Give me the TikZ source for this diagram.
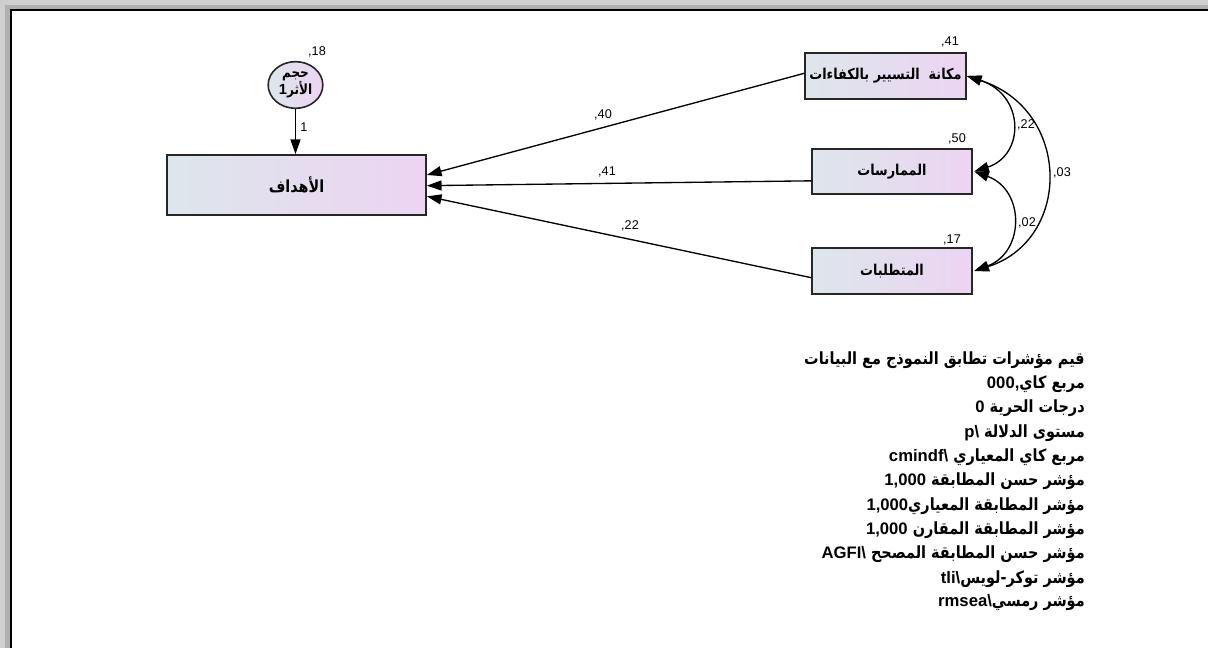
\documentclass[tikz,border=0pt]{standalone}
\usepackage{fontspec}
\setmainfont{Liberation Sans}
\newfontfamily\arabicfont[Script=Arabic,FakeStretch=0.86]{DejaVu Sans}
\TeXXeTstate=1
\usetikzlibrary{arrows.meta,shapes.geometric}
\newcommand\latn[1]{{\rmfamily\bfseries\fontsize{12.5}{13}\selectfont #1}}
\definecolor{boxL}{RGB}{221,230,235}
\definecolor{boxR}{RGB}{236,212,242}
\definecolor{frameband}{RGB}{176,176,176}
\definecolor{frameouter}{RGB}{206,206,206}

\tikzset{
  varbox/.style={draw=black!85, line width=1.3pt, left color=boxL, right color=boxR,
    inner sep=0pt, font=\arabicfont\bfseries\fontsize{11.2}{12}\selectfont},
  errcirc/.style={ellipse, draw=black!85, line width=1.2pt, left color=boxL, right color=boxR,
    inner sep=0pt, minimum width=41pt, minimum height=35pt, align=center,
    font=\arabicfont\bfseries\fontsize{10.5}{10}\selectfont},
  tip/.tip={Triangle[length=11pt,width=7.5pt]},
  regarrow/.style={-tip, line width=1pt},
  covarrow/.style={tip-tip, line width=1pt},
  est/.style={inner sep=0pt, font=\fontsize{9.5}{10}\selectfont},
  fitline/.style={anchor=east, inner sep=0pt, font=\arabicfont\bfseries\fontsize{12.6}{13}\selectfont},
}

\begin{document}
\begin{tikzpicture}[x=0.75pt,y=-0.75pt]
\useasboundingbox (0,0) rectangle (1208,648);

% window frame
\fill[frameouter] (0,0) rectangle (1208,648);
\fill[frameband] (5,5) rectangle (1208,648);
\fill[white] (10.5,10.5) rectangle (1208,648);
\draw[line width=1.5pt] (10.5,648) -- (10.5,10.5) -- (1208,10.5);

% variables
\node[varbox, minimum width=194.25pt, minimum height=45pt, font=\arabicfont\bfseries\fontsize{12.5}{13}\selectfont] (goal) at (296.5,185) {\beginR الأهداف\endR};
\node[varbox, minimum width=120.75pt, minimum height=34.5pt] (comp) at (885.5,76) {\beginR مكانة\ \ التسيير بالكفاءات\endR};
\node[varbox, minimum width=120pt, minimum height=33.75pt] (prac) at (892,171.5) {\beginR الممارسات\endR};
\node[varbox, minimum width=120pt, minimum height=34.5pt] (req) at (892,271) {\beginR المتطلبات\endR};
\node[errcirc] (eff) at (295.5,85) {\beginR حجم\endR\\[-0.5pt]\beginR الأثر\beginL\latn{\fontsize{11}{11}\selectfont 1}\endL\endR};

% regression paths
\draw[regarrow] (eff.south) -- (eff.south |- goal.north);
\draw[regarrow] ([yshift=2pt]comp.west) -- ([yshift=7.5pt]goal.east);
\draw[regarrow] ([yshift=-7pt]prac.west) -- ([yshift=-0.5pt]goal.east);
\draw[regarrow] ([yshift=-5pt]req.west) -- ([yshift=-8.5pt]goal.east);

% covariances
\draw[covarrow] (comp.east) .. controls (1025,95) and (1025,155) .. ([xshift=1pt]prac.east);
\draw[covarrow] ([xshift=1pt]prac.east) .. controls (1025,190) and (1025,252) .. ([xshift=1pt]req.east);
\draw[covarrow] (comp.east) .. controls (1072,110) and (1072,240) .. ([xshift=1pt]req.east);

% estimates
\node[est] (e18) at (317,52) {,18};
\node[est] (e1) at (304,127) {1};
\node[est] (e40) at (603,115) {,40};
\node[est] (e41p) at (607,172) {,41};
\node[est] (e22p) at (630,226) {,22};
\node[est] (e41) at (950,42) {,41};
\node[est] (e50) at (957,139) {,50};
\node[est] (e17) at (952,240) {,17};
\node[est] (c22) at (1026,125) {,22};
\node[est] (c02) at (1027,223) {,02};
\node[est] (c03) at (1062,173) {,03};

% fit indices
\node[fitline] (t1) at (1085,360) {\beginR قيم مؤشرات تطابق النموذج مع البيانات\endR};
\node[fitline] (t2) at (1085,384.3) {\beginR مربع كاي\beginL\latn{000,}\endL\endR};
\node[fitline] (t3) at (1085,408.6) {\beginR درجات الحرية \beginL\latn{0}\endL\endR};
\node[fitline] (t4) at (1085,432.9) {\beginR مستوى الدلالة \beginL\latn{p\textbackslash}\endL\endR};
\node[fitline] (t5) at (1085,457.2) {\beginR مربع كاي المعياري \beginL\latn{cmindf\textbackslash}\endL\endR};
\node[fitline] (t6) at (1085,481.5) {\beginR مؤشر حسن المطابقة \beginL\latn{1,000}\endL\endR};
\node[fitline] (t7) at (1085,505.8) {\beginR مؤشر المطابقة المعياري\beginL\latn{1,000}\endL\endR};
\node[fitline] (t8) at (1085,530.1) {\beginR مؤشر المطابقة المقارن \beginL\latn{1,000}\endL\endR};
\node[fitline] (t9) at (1085,554.4) {\beginR مؤشر حسن المطابقة المصحح \beginL\latn{AGFI\textbackslash}\endL\endR};
\node[fitline] (t10) at (1085,578.7) {\beginR مؤشر توكر-لويس\beginL\latn{tli\textbackslash}\endL\endR};
\node[fitline] (t11) at (1085,603) {\beginR مؤشر رمسي\beginL\latn{rmsea\textbackslash}\endL\endR};
\end{tikzpicture}
\end{document}
